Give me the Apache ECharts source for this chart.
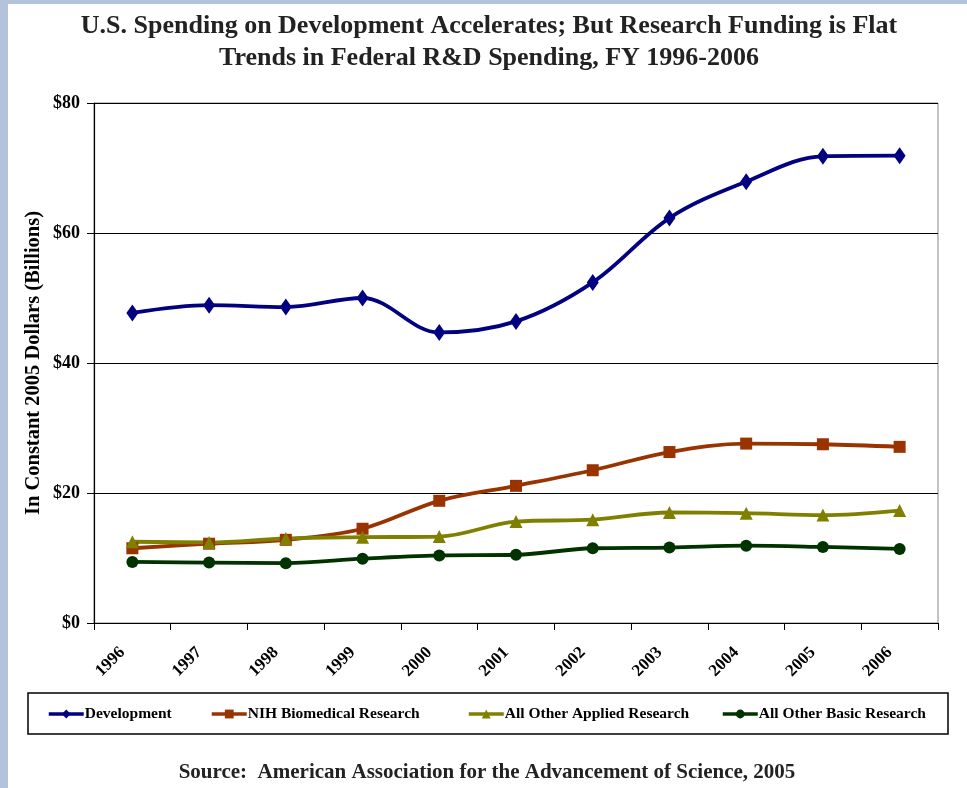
<!DOCTYPE html>
<html>
<head>
<meta charset="utf-8">
<script src="https://cdn.jsdelivr.net/npm/echarts@6/dist/echarts.min.js"></script>
<style>
html,body{margin:0;padding:0;background:#b3c3db;}
#wrap{position:absolute;left:8px;top:4px;width:959px;height:784px;background:#fff;}
</style>
</head>
<body>
<div id="wrap"></div>
<div id="chart" style="position:absolute;left:0;top:0;width:967px;height:788px;"></div>
<script>
const years = ['1996','1997','1998','1999','2000','2001','2002','2003','2004','2005','2006'];
const development = [47.7, 48.9, 48.6, 50.0, 44.7, 46.4, 52.4, 62.3, 67.9, 71.8, 71.9];
const nihBiomedical = [11.5, 12.2, 12.8, 14.5, 18.8, 21.1, 23.5, 26.3, 27.6, 27.5, 27.1];
const otherApplied = [12.5, 12.4, 13.0, 13.2, 13.3, 15.6, 15.9, 17.0, 16.9, 16.6, 17.3];
const otherBasic = [9.4, 9.3, 9.2, 9.9, 10.4, 10.5, 11.5, 11.6, 11.9, 11.7, 11.4];
const yTicks = [0, 20, 40, 60, 80];
const seriesNames = ['Development','NIH Biomedical Research','All Other Applied Research','All Other Basic Research'];

const FONT = '"Liberation Serif", "DejaVu Serif", serif';
const chart = echarts.init(document.getElementById('chart'), null, {renderer:'canvas'});

function mkSeries(name, data, color, symbol, size) {
  return {
    name: name, type: 'line', data: data, smooth: 0.35,
    symbol: symbol, symbolSize: size,
    lineStyle: {color: color, width: 3.8},
    itemStyle: {color: color},
    emphasis: {disabled: true}
  };
}
const legendLeft = [47, 210, 467, 721];
const colors = ['#000080','#993300','#808000','#003300'];

chart.setOption({
  animation: false,
  backgroundColor: 'transparent',
  title: {
    text: 'U.S. Spending on Development Accelerates; But Research Funding is Flat\nTrends in Federal R&D Spending, FY 1996-2006',
    left: 484, top: 5, textAlign: 'center',
    textStyle: {fontFamily: FONT, fontWeight: 'bold', fontSize: 26, lineHeight: 32, color: '#222'}
  },
  grid: {left: 94, right: 29, top: 103, bottom: 165, show: true, borderColor: '#888', borderWidth: 1},
  legend: seriesNames.map((n, i) => ({
    data: [n], left: legendLeft[i], top: 706, itemWidth: 35, itemHeight: 11, itemGap: 0, padding: 0,
    lineStyle: {width: 3.5},
    textStyle: {fontFamily: FONT, fontWeight: 'bold', fontSize: 15.5, color: '#000', padding: [0,0,0,-4]},
    selectedMode: false
  })),
  xAxis: {
    type: 'category', data: years, boundaryGap: true,
    axisLine: {lineStyle: {color: '#000', width: 1.2}},
    axisTick: {show: true, length: 7, lineStyle: {color: '#000'}},
    axisLabel: {rotate: 45, fontFamily: FONT, fontWeight: 'bold', fontSize: 17, color: '#000', margin: 17, interval: 0, padding: [0, 14, 0, 0]},
    splitLine: {show: false}
  },
  yAxis: {
    type: 'value', min: yTicks[0], max: yTicks[yTicks.length-1], interval: 20,
    name: 'In Constant 2005 Dollars (Billions)', nameLocation: 'middle', nameRotate: 90, nameGap: 50,
    nameMoveOverlap: false,
    nameTextStyle: {fontFamily: FONT, fontWeight: 'bold', fontSize: 20.5, color: '#000'},
    axisLine: {show: true, lineStyle: {color: '#000', width: 1.2}},
    axisTick: {show: true, length: 7, lineStyle: {color: '#000'}},
    axisLabel: {formatter: v => '$' + v, fontFamily: FONT, fontWeight: 'bold', fontSize: 18, color: '#000', margin: 14},
    splitLine: {show: true, lineStyle: {color: '#000', width: 1}}
  },
  graphic: [
    {type: 'rect', shape: {x: 28, y: 693, width: 920, height: 41}, style: {fill: 'none', stroke: '#000', lineWidth: 1.5}, z: -1},
    {type: 'text', x: 487, y: 773, style: {text: 'Source:  American Association for the Advancement of Science, 2005', font: 'bold 21px ' + FONT, fill: '#222', textAlign: 'center', textVerticalAlign: 'middle'}}
  ],
  series: [
    mkSeries(seriesNames[0], development, colors[0], 'diamond', [12, 17]),
    mkSeries(seriesNames[1], nihBiomedical, colors[1], 'rect', 12),
    mkSeries(seriesNames[2], otherApplied, colors[2], 'triangle', 13),
    mkSeries(seriesNames[3], otherBasic, colors[3], 'circle', 12)
  ]
});
</script>
</body>
</html>
